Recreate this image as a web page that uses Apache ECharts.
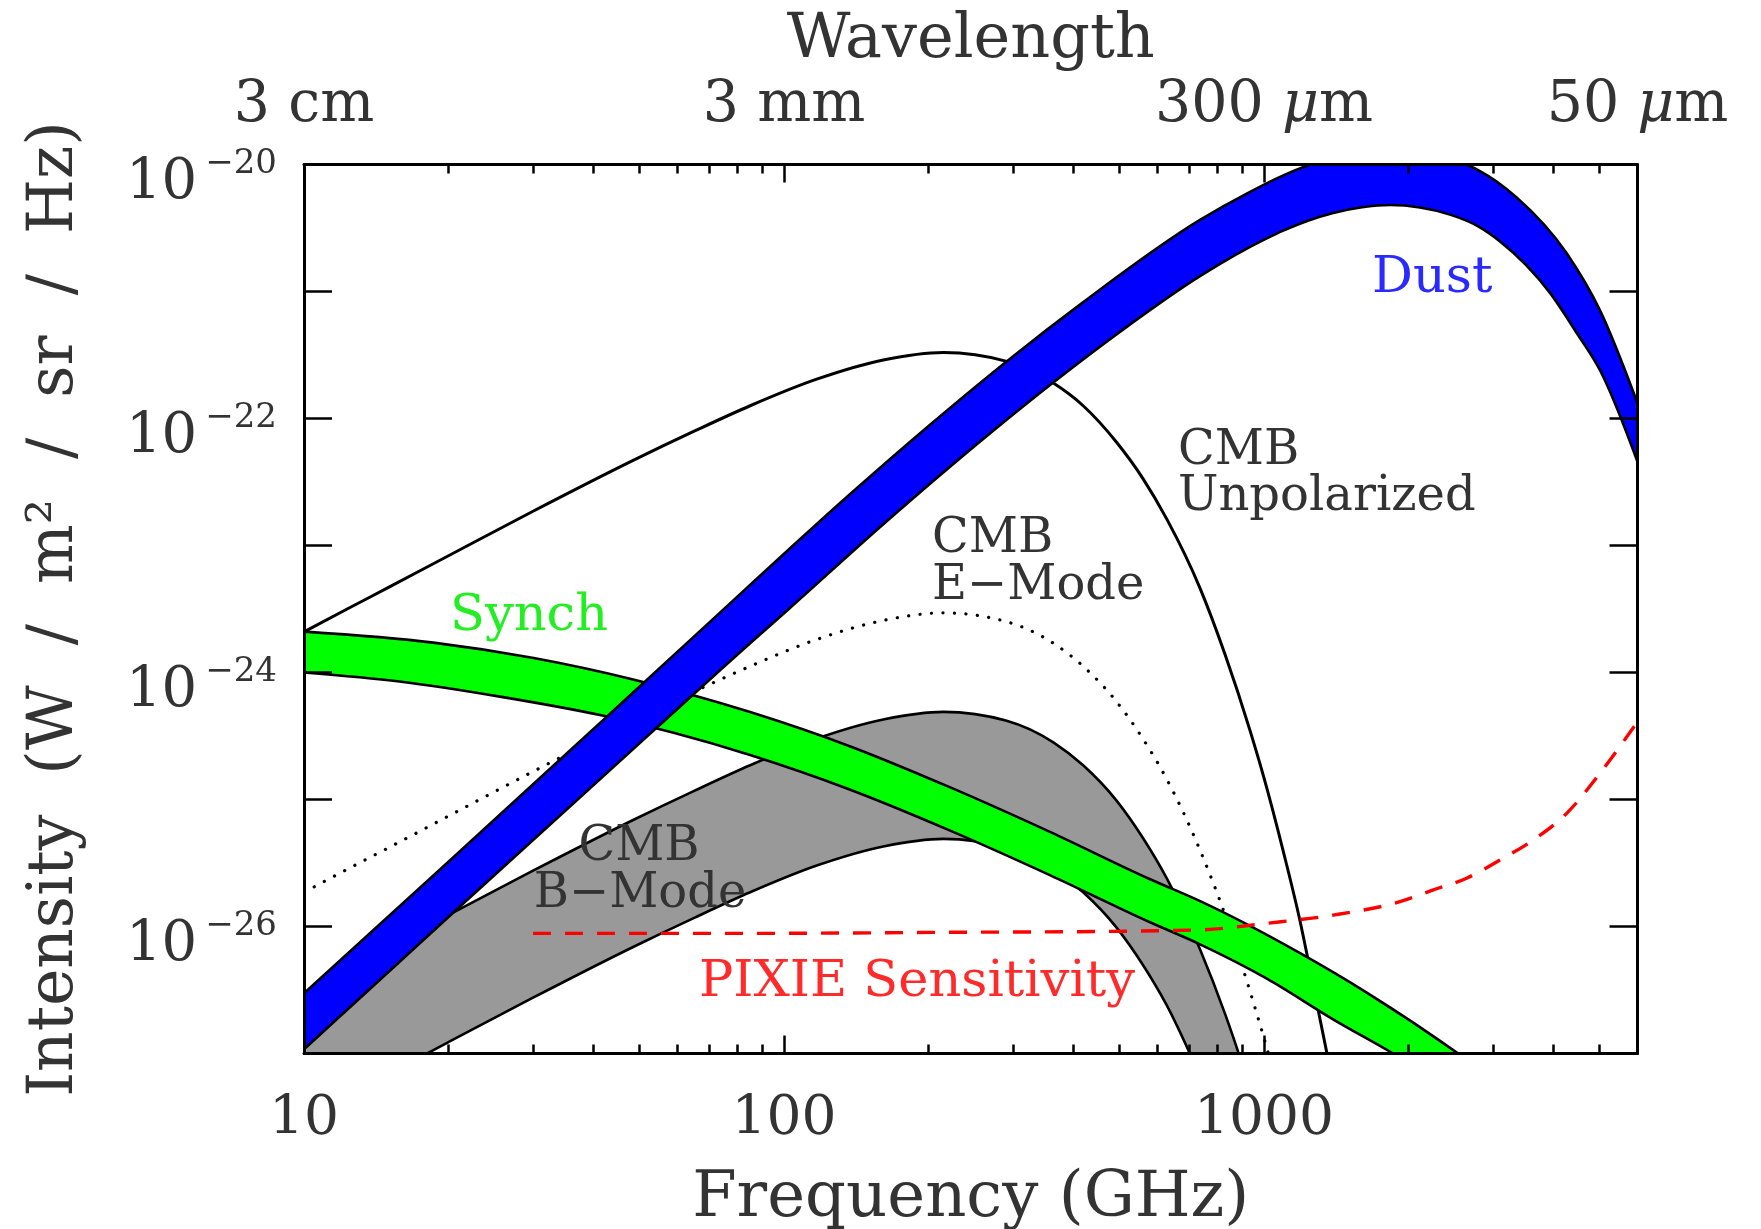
<!DOCTYPE html>
<html>
<head>
<meta charset="utf-8">
<title>Foreground intensity spectra</title>
<script src="https://cdn.jsdelivr.net/npm/echarts@6/dist/echarts.min.js"></script>
<style>
  html, body { margin: 0; padding: 0; background: #ffffff; }
  #chart { width: 1761px; height: 1229px; }
</style>
</head>
<body>
<div id="chart"></div>
<script>
// ---- Axis ticks ----------------------------------------------------------
// Frequency (GHz)
const freqMajorTicks = [10, 100, 1000];
const freqMinorTicks = [20, 30, 40, 50, 60, 70, 80, 90,
                        200, 300, 400, 500, 600, 700, 800, 900,
                        2000, 3000, 4000, 5000];
// Wavelength labels of the top axis, at their frequencies (GHz)
const wavelengthTickFreqs = [10, 100, 1000, 6000];
const wavelengthTickLabels = ['3 cm', '3 mm', '300 μm', '50 μm'];
// Intensity (W / m^2 / sr / Hz)
const intensityTicks = [1e-27, 1e-26, 1e-25, 1e-24, 1e-23, 1e-22, 1e-21, 1e-20];
const intensityLabelTicks = [1e-26, 1e-24, 1e-22, 1e-20];

// ---- Spectra: [frequency GHz, intensity W/m^2/sr/Hz] ---------------------
const cmbUnpolarized = [
  [10, 2.09e-24], [12.3, 3.16e-24], [15, 4.68e-24], [20, 8.3e-24], [30, 1.86e-23],
  [48.5, 4.68e-23], [65, 7.94e-23], [85, 1.26e-22], [117, 2.04e-22], [161, 2.89e-22],
  [215, 3.31e-22], [291, 2.82e-22], [364, 1.9e-22], [420, 1.26e-22], [493, 6.5e-23],
  [560, 3.35e-23], [627, 1.62e-23], [736, 4.6e-24], [830, 1.38e-24], [935, 3.5e-25],
  [1000, 1.48e-25], [1097, 3.9e-26], [1189, 1.1e-26], [1247, 4.6e-27], [1300, 2.1e-27],
  [1358, 9.3e-28]
];

const cmbEMode = [
  [10, 1.86e-26], [12.3, 2.82e-26], [15, 4.17e-26], [20, 7.41e-26], [30, 1.66e-25],
  [48.5, 4.17e-25], [65, 7.08e-25], [85, 1.12e-24], [117, 1.82e-24], [161, 2.57e-24],
  [215, 2.95e-24], [291, 2.51e-24], [364, 1.70e-24], [420, 1.12e-24], [493, 5.89e-25],
  [560, 2.99e-25], [627, 1.45e-25], [736, 3.98e-26], [830, 1.23e-26], [935, 3.09e-27],
  [1000, 1.32e-27], [1030, 8.9e-28]
];

const cmbBModeUpper = [
  [10, 2.75e-27], [12.3, 4.68e-27], [15, 6.9e-27], [20, 1.23e-26], [30, 2.75e-26],
  [48.5, 6.9e-26], [65, 1.17e-25], [85, 1.86e-25], [117, 3.02e-25], [161, 4.27e-25],
  [215, 4.9e-25], [291, 4.17e-25], [364, 2.82e-25], [420, 1.86e-25], [493, 9.8e-26],
  [560, 4.95e-26], [627, 2.4e-26], [736, 6.6e-27], [830, 2.04e-27], [884, 1.02e-27],
  [935, 5.1e-28]
];
const cmbBModeLower = [
  [10, 3.1e-28], [15, 6.9e-28], [20, 1.23e-27], [30, 2.75e-27], [48.5, 6.9e-27],
  [65, 1.17e-26], [85, 1.86e-26], [117, 3.02e-26], [161, 4.27e-26], [215, 4.9e-26],
  [291, 4.17e-26], [364, 2.82e-26], [420, 1.86e-26], [493, 9.8e-27], [560, 4.95e-27],
  [627, 2.4e-27], [736, 6.6e-28]
];

const synchUpper = [
  [10, 2.10e-24], [18.6, 1.72e-24], [30.1, 1.30e-24], [48.5, 8.81e-25], [85, 4.88e-25],
  [137, 2.63e-25], [222, 1.245e-25], [358, 5.56e-26], [579, 2.355e-26], [736, 1.585e-26],
  [1189, 6.17e-27], [1637, 3.02e-27], [2557, 9.8e-28], [3000, 6.3e-28]
];
const synchLower = [
  [10, 1.0e-24], [15.8, 8.5e-25], [25.6, 6.46e-25], [41.4, 4.62e-25], [85, 2.24e-25],
  [137, 1.2e-25], [222, 5.69e-26], [358, 2.54e-26], [579, 1.08e-26], [736, 7.24e-27],
  [1014, 3.89e-27], [1393, 1.86e-27], [1858, 1.0e-27], [2200, 6.8e-28]
];

const dustUpper = [
  [10, 2.98e-27], [20, 3.23e-26], [42.7, 4.47e-25], [50.9, 8.22e-25], [85, 4.90e-24],
  [137.2, 2.53e-23], [201.5, 8.93e-23], [295.8, 2.96e-22], [420.3, 8.25e-22], [735.6, 3.66e-21],
  [935, 6.08e-21], [1100, 8.24e-21], [1247, 1.0e-20], [1600, 1.30e-20], [1830, 1.35e-20],
  [2643, 1.0e-20], [2800, 9.0e-21], [3360, 5.51e-21], [4272, 2.0e-21], [5012, 7.1e-22],
  [6000, 1.32e-22]
];
const dustLower = [
  [10, 1.08e-27], [20.8, 1.36e-26], [53.4, 3.47e-25], [85, 1.70e-24], [102.9, 3.22e-24],
  [161, 1.47e-23], [221.8, 4.17e-23], [363.9, 1.92e-22], [500, 4.78e-22], [735.6, 1.32e-21],
  [1013, 2.62e-21], [1100, 3.03e-21], [1394, 4.15e-21], [1600, 4.61e-21], [1830, 4.80e-21],
  [2440, 4.03e-21], [2800, 3.24e-21], [3102, 2.48e-21], [3943, 9.75e-22], [4500, 4.61e-22],
  [5012, 2.4e-22], [6000, 4.57e-23]
];

const pixieSensitivity = [
  [30, 8.83e-27], [85, 8.83e-27], [221.8, 9.0e-27], [455, 9.14e-27], [735.6, 9.4e-27],
  [1013, 1.06e-26], [1394, 1.23e-26], [1920, 1.57e-26], [2253, 1.94e-26], [2644, 2.4e-26],
  [3102, 3.34e-26], [3639, 4.8e-26], [4272, 7.78e-26], [5012, 1.61e-25], [6000, 4.1e-25]
];

// ---- Styling --------------------------------------------------------------
const FONT = '"DejaVu Serif", "Liberation Serif", serif';
const INK = '#333333';

// Monotone cubic (in x) through pixel points, returned as bezier segments.
function monotoneSegments(pts) {
  const n = pts.length;
  const sgn = v => (v < 0 ? -1 : 1);
  const secant = [];
  for (let i = 0; i < n - 1; i++) {
    const h = pts[i + 1][0] - pts[i][0];
    secant.push(h ? (pts[i + 1][1] - pts[i][1]) / h : 0);
  }
  const tan = new Array(n).fill(0);
  for (let i = 1; i < n - 1; i++) {
    const h0 = pts[i][0] - pts[i - 1][0];
    const h1 = pts[i + 1][0] - pts[i][0];
    const s0 = secant[i - 1], s1 = secant[i];
    const p = (s0 * h1 + s1 * h0) / (h0 + h1);
    tan[i] = (sgn(s0) + sgn(s1)) * Math.min(Math.abs(s0), Math.abs(s1), 0.5 * Math.abs(p)) || 0;
  }
  if (n > 2) {
    tan[0] = (3 * secant[0] - tan[1]) / 2;
    tan[n - 1] = (3 * secant[n - 2] - tan[n - 2]) / 2;
  } else {
    tan[0] = tan[1] = secant[0];
  }
  const segs = [];
  for (let i = 0; i < n - 1; i++) {
    const [x0, y0] = pts[i];
    const [x1, y1] = pts[i + 1];
    const dx = (x1 - x0) / 3;
    segs.push([[x0, y0], [x0 + dx, y0 + dx * tan[i]], [x1 - dx, y1 - dx * tan[i + 1]], [x1, y1]]);
  }
  return segs;
}
const fmt = p => p[0].toFixed(2) + ',' + p[1].toFixed(2);
function forwardPath(segs) {
  let d = 'M' + fmt(segs[0][0]);
  segs.forEach(s => { d += ' C' + fmt(s[1]) + ' ' + fmt(s[2]) + ' ' + fmt(s[3]); });
  return d;
}
function reversePath(segs) {
  let d = ' L' + fmt(segs[segs.length - 1][3]);
  for (let i = segs.length - 1; i >= 0; i--) {
    const s = segs[i];
    d += ' C' + fmt(s[2]) + ' ' + fmt(s[1]) + ' ' + fmt(s[0]);
  }
  return d;
}

const EDGE_WIDTH = 2.6;

// Filled band between two spectra, outlined in black.
function bandSeries(name, upper, lower, fill, z) {
  return {
    type: 'custom', name, z, clip: true, silent: true,
    xAxisIndex: 0, yAxisIndex: 0,
    data: upper.concat(lower),
    renderItem(params, api) {
      if (params.dataIndex !== 0) return null;
      const up = monotoneSegments(upper.map(p => api.coord(p)));
      const lo = monotoneSegments(lower.map(p => api.coord(p)));
      return {
        type: 'group',
        children: [
          { type: 'path', shape: { pathData: forwardPath(up) + reversePath(lo) + ' Z' },
            style: { fill: fill, stroke: 'none', lineWidth: 0 } },
          { type: 'path', shape: { pathData: forwardPath(up) },
            style: { fill: 'none', stroke: '#000000', lineWidth: EDGE_WIDTH } },
          { type: 'path', shape: { pathData: forwardPath(lo) },
            style: { fill: 'none', stroke: '#000000', lineWidth: EDGE_WIDTH } }
        ]
      };
    }
  };
}

// Single spectrum drawn as a line.
function curveSeries(name, points, z, line, yAxisIndex) {
  return {
    type: 'custom', name, z, clip: true, silent: true,
    xAxisIndex: 0, yAxisIndex: yAxisIndex || 0,
    data: points,
    renderItem(params, api) {
      if (params.dataIndex !== 0) return null;
      const segs = monotoneSegments(points.map(p => api.coord(p)));
      return {
        type: 'path',
        shape: { pathData: forwardPath(segs) },
        style: {
          fill: 'none', stroke: line.color, lineWidth: line.width,
          lineDash: line.dash || null, lineCap: line.cap || 'butt'
        }
      };
    }
  };
}

const tickLine = { color: '#000000', width: 2.5 };
const frameLine = { color: '#000000', width: 3 };

function freqAxis(position, major, withLabels) {
  const axis = {
    type: 'log', logBase: 10, min: 10, max: 6000, position, z: 10,
    axisLine: { show: major, onZero: false, lineStyle: frameLine },
    axisTick: { show: true, inside: true, length: major ? 18 : 9,
                customValues: major ? freqMajorTicks : freqMinorTicks, lineStyle: tickLine },
    minorTick: { show: false }, splitLine: { show: false }, minorSplitLine: { show: false },
    axisLabel: { show: false }
  };
  if (withLabels && position === 'bottom') {
    axis.axisLabel = {
      show: true, customValues: freqMajorTicks, margin: 39,
      fontSize: 55, fontFamily: FONT, color: INK,
      formatter: v => String(Math.round(v))
    };
    axis.name = 'Frequency (GHz)';
    axis.nameLocation = 'middle';
    axis.nameGap = 114;
    axis.nameTextStyle = { fontSize: 64, fontFamily: FONT, color: INK };
  }
  if (withLabels && position === 'top') {
    axis.axisLabel = {
      show: true, customValues: wavelengthTickFreqs, margin: 30,
      fontSize: 57, fontFamily: FONT, color: INK,
      formatter: v => {
        let k = 0;
        wavelengthTickFreqs.forEach((f, i) => {
          if (Math.abs(f - v) < Math.abs(wavelengthTickFreqs[k] - v)) k = i;
        });
        return wavelengthTickLabels[k].replace('μ', '{mu|μ}');
      },
      rich: { mu: { fontSize: 57, fontFamily: FONT, fontStyle: 'italic', color: INK } }
    };
    axis.name = 'Wavelength';
    axis.nameLocation = 'middle';
    axis.nameGap = 93;
    axis.nameTextStyle = { fontSize: 62, fontFamily: FONT, color: INK };
  }
  return axis;
}

function intensityAxis(position) {
  const axis = {
    type: 'log', logBase: 10, min: 1e-27, max: 1e-20, position, z: 10,
    axisLine: { show: true, onZero: false, lineStyle: frameLine },
    axisTick: { show: true, inside: true, length: 28, customValues: intensityTicks, lineStyle: tickLine },
    minorTick: { show: false }, splitLine: { show: false }, minorSplitLine: { show: false },
    axisLabel: { show: false }
  };
  if (position === 'left') {
    axis.axisLabel = {
      show: true, customValues: intensityLabelTicks, margin: 27,
      formatter: v => '{b|10}{e|−' + Math.round(-Math.log10(v)) + '}',
      rich: {
        b: { fontSize: 56, fontFamily: FONT, color: INK, padding: [38, 0, 0, 0] },
        e: { fontSize: 34, fontFamily: FONT, color: INK, padding: [0, 0, 0, 8] }
      }
    };
    axis.name = 'Intensity  (W  /  m²  /  sr  /  Hz)';
    axis.nameLocation = 'middle';
    axis.nameGap = 217;
    axis.nameTextStyle = { fontSize: 63, fontFamily: FONT, color: INK };
  }
  return axis;
}

function note(text, x, y, color, size, align) {
  return {
    type: 'text', x, y, z: 100, silent: true,
    style: {
      text, fill: color, font: size + 'px ' + FONT,
      textAlign: align || 'left', textVerticalAlign: 'middle', verticalAlign: 'middle'
    }
  };
}

const chart = echarts.init(document.getElementById('chart'), null, { renderer: 'canvas' });
chart.setOption({
  animation: false,
  backgroundColor: '#ffffff',
  grid: { left: 304, right: 123.5, top: 164.5, bottom: 175.5, containLabel: false, outerBoundsMode: 'none' },
  xAxis: [
    freqAxis('bottom', true, true),
    freqAxis('bottom', false, false),
    freqAxis('top', true, true),
    freqAxis('top', false, false)
  ],
  yAxis: [intensityAxis('left'), intensityAxis('right')],
  series: [
    bandSeries('CMB B-Mode', cmbBModeUpper, cmbBModeLower, '#999999', 2),
    curveSeries('CMB Unpolarized', cmbUnpolarized, 3, { color: '#000000', width: 3 }),
    curveSeries('CMB E-Mode', cmbEMode, 4, { color: '#000000', width: 3.2, dash: [0.1, 11.4], cap: 'round' }),
    bandSeries('Synch', synchUpper, synchLower, '#00ff00', 5),
    bandSeries('Dust', dustUpper, dustLower, '#0000ff', 6),
    curveSeries('PIXIE Sensitivity', pixieSensitivity, 7, { color: '#ff0000', width: 3.4, dash: [18, 14] }, 1)
  ],
  graphic: [
    note('Dust', 1372, 279, '#2a2aff', 51),
    note('CMB', 1178, 452, INK, 48),
    note('Unpolarized', 1178, 498, INK, 48),
    note('CMB', 932, 540, INK, 48),
    note('E−Mode', 932, 587, INK, 48),
    note('Synch', 450, 617, '#22ee22', 51),
    note('CMB', 639, 848, INK, 48, 'center'),
    note('B−Mode', 640, 895, INK, 48, 'center'),
    note('PIXIE Sensitivity', 699, 983, '#ff2a2a', 51)
  ]
});
</script>
</body>
</html>
